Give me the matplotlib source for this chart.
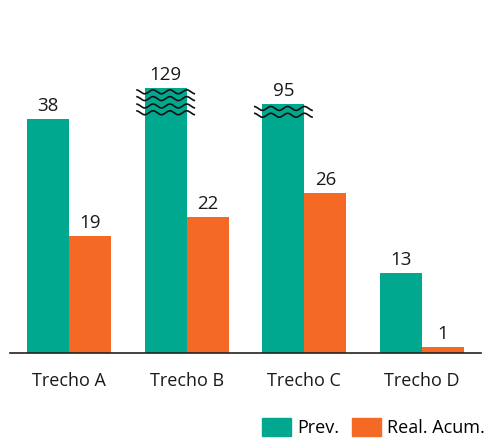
import numpy as np
import matplotlib
matplotlib.use("Agg")
import matplotlib.pyplot as plt
from matplotlib.patches import Patch

plt.rcParams['font.family'] = ['Open Sans', 'DejaVu Sans']

categories = ["Trecho A", "Trecho B", "Trecho C", "Trecho D"]
prev = [38, 129, 95, 13]
real_acum = [19, 22, 26, 1]
# height at which a very tall bar is cut off (None = drawn in full)
prev_cut = [None, 43, 40.4, None]

GREEN = "#00A88F"
ORANGE = "#F46A25"

fig = plt.figure(figsize=(4.88, 4.40), dpi=100)
W, H = 488, 440
ax = fig.add_axes([10 / W, 1 - 353 / H, (481 - 10) / W, (353 - 40) / H])
ax.set_xlim(-0.5, 3.5)
ax.set_ylim(0, 313 / 6.16)

x = np.arange(len(categories))
bw = 0.356
shown_prev = [v if c is None else min(v, c) for v, c in zip(prev, prev_cut)]

ax.bar(x - bw / 2, shown_prev, width=bw, color=GREEN, label="Prev.")
ax.bar(x + bw / 2, real_acum, width=bw, color=ORANGE, label="Real. Acum.")

fs = 13
for xi, h, v in zip(x, shown_prev, prev):
    ax.annotate(str(v), (xi - bw / 2, h), xytext=(0, 3), textcoords="offset points",
                ha="center", va="bottom", fontsize=fs + 0.5, color="#1a1a1a")
for xi, v in zip(x, real_acum):
    ax.annotate(str(v), (xi + bw / 2, v), xytext=(0, 3), textcoords="offset points",
                ha="center", va="bottom", fontsize=fs + 0.5, color="#1a1a1a")

# wavy break marks over truncated bars
def wave(xc, y, offsets):
    t = np.linspace(-0.25, 0.25, 200)
    for off in offsets:
        yy = y - off + 0.32 * np.sin(t / 0.5 * 2 * np.pi * 3.5)
        ax.plot(xc + t, yy, color="#111111", lw=1.2, solid_capstyle="butt", clip_on=False)

for xi, c in zip(x, prev_cut):
    if c is None:
        continue
    offs = [0.6, 1.7, 2.9, 4.0] if c > 42 else [0.7, 1.8]
    wave(xi - bw / 2, c, offs)

for s in ["top", "right", "left"]:
    ax.spines[s].set_visible(False)
ax.spines["bottom"].set_color("#222222")
ax.spines["bottom"].set_linewidth(1.2)
ax.set_yticks([])
ax.set_xticks(x)
ax.set_xticklabels(categories, fontsize=fs, color="#1a1a1a")
ax.tick_params(axis="x", length=0, pad=14)

handles = [Patch(color=GREEN, label="Prev."), Patch(color=ORANGE, label="Real. Acum.")]
fig.legend(handles=handles, loc="lower right", bbox_to_anchor=(1.0, 0.0), ncol=2,
           frameon=False, fontsize=fs, handlelength=1.6, handleheight=1.2,
           handletextpad=0.35, columnspacing=0.7, borderaxespad=0.0, borderpad=0.15)

fig.savefig("out.png", dpi=100)
